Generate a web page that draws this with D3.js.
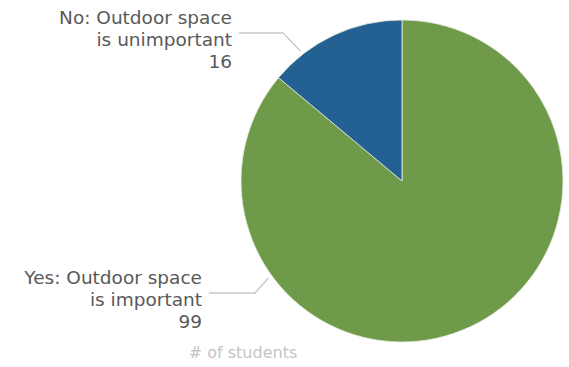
<!DOCTYPE html>
<html><head><meta charset="utf-8">
<script src="https://cdn.jsdelivr.net/npm/d3@7"></script>
<style>body{margin:0;background:#fff}svg{display:block}text{font-family:"DejaVu Sans",sans-serif}</style>
</head><body>
<svg id="c" width="569" height="367"></svg>
<script>
const categories = ["Yes: Outdoor space is important", "No: Outdoor space is unimportant"];
const labelLines = [["Yes: Outdoor space", "is important"], ["No: Outdoor space", "is unimportant"]];
const values = [99, 16];
const colors = ["#6f9a49", "#236192"];
const axisTitle = "# of students";

const svg = d3.select("#c");
const cx = 402, cy = 181, R = 161;
const g = svg.append("g").attr("transform", `translate(${cx},${cy})`);
const pie = d3.pie().sort(null).value(d => d)(values);
const arc = d3.arc().innerRadius(0).outerRadius(R);
g.selectAll("path").data(pie).join("path")
  .attr("d", arc).attr("fill", (d, i) => colors[i])
  .attr("stroke", "#e8eee0").attr("stroke-width", 0.8);

// label layout: anchor angle (deg), elbow, text right x, first baseline y
const layout = [
  { ang: -126, ex: 255, ey: 293, tx: 202, ty: 284 },
  { ang: -38, ex: 283, ey: 33, tx: 232, ty: 24 }
];
pie.forEach((d, i) => {
  const L = layout[i];
  const a = L.ang * Math.PI / 180;
  const px = cx + (R + 4) * Math.sin(a), py = cy - (R + 4) * Math.cos(a);
  svg.append("polyline")
    .attr("points", `${px},${py} ${L.ex},${L.ey} ${L.tx + 7},${L.ey}`)
    .attr("fill", "none").attr("stroke", "#c8c8c8").attr("stroke-width", 1.3);
  const t = svg.append("text").attr("text-anchor", "end").attr("fill", "#595959").attr("font-size", 18.5);
  labelLines[i].concat([String(values[i])]).forEach((s, j) => {
    t.append("tspan").attr("x", L.tx).attr("y", L.ty + j * 22).text(s);
  });
});
svg.append("text").attr("x", 243).attr("y", 358).attr("text-anchor", "middle")
  .attr("fill", "#c4c4c4").attr("font-size", 16).text(axisTitle);
</script>
</body></html>
